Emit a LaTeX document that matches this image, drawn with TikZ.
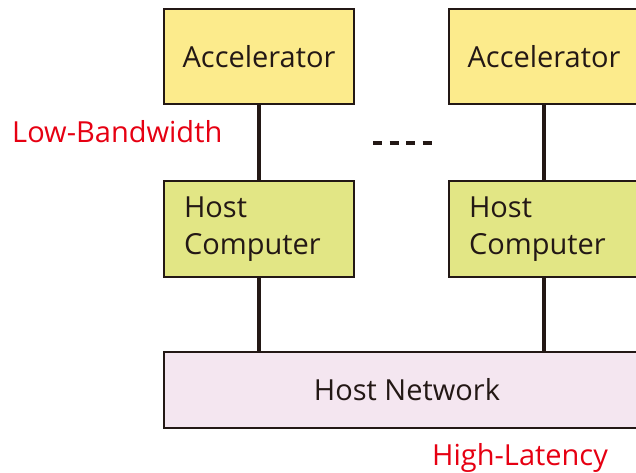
\documentclass[tikz,border=0pt]{standalone}
\usepackage{fontspec}
\setmainfont{Open Sans}
\begin{document}
\begin{tikzpicture}[x=1pt,y=-1pt,
  every node/.style={font=\fontsize{29}{37}\selectfont, text=txtdark},
  box/.style={draw=txtdark, line width=2.2pt, rectangle, minimum width=190pt, minimum height=95pt, inner sep=0pt},
  accel/.style={box, fill=accfill},
  host/.style={box, fill=hostfill, align=left, text width=150pt, minimum height=96pt},
  link/.style={draw=txtdark, line width=4.5pt},
  note/.style={text=notered, anchor=base west, inner sep=0pt}
]
\definecolor{txtdark}{HTML}{231815}
\definecolor{accfill}{HTML}{FCEB8C}
\definecolor{hostfill}{HTML}{E2E685}
\definecolor{netfill}{HTML}{F4E6F0}
\definecolor{notered}{HTML}{E60012}
\useasboundingbox (0,0) rectangle (636,472);
\clip (0,0) rectangle (636,472);

% two accelerator / host pairs
\node[accel] (acc1) at (259,56.5) {Accelerator};
\node[accel] (acc2) at (544,56.5) {Accelerator};
\node[host] (hc1) at (259,229) {Host\\Computer};
\node[host] (hc2) at (544,229) {Host\\Computer};

% shared network
\node[box, fill=netfill, minimum width=486pt, minimum height=76pt] (net) at (407,390) {Host Network};

% connectors
\draw[link] (acc1.south) -- (hc1.north);
\draw[link] (acc2.south) -- (hc2.north);
\draw[link] (hc1.south) -- (hc1.south |- net.north);
\draw[link] (hc2.south) -- (hc2.south |- net.north);

% ellipsis between the pairs
\coordinate (dotsA) at (373,143);
\coordinate (dotsB) at (432,143);
\draw[draw=txtdark, line width=4pt, dash pattern=on 9pt off 7.5pt] (dotsA) -- (dotsB);

% annotations
\node[note] (lowbw) at (12,142) {Low-Bandwidth};
\node[note] (highlat) at (432,465) {High-Latency};
\end{tikzpicture}
\end{document}
